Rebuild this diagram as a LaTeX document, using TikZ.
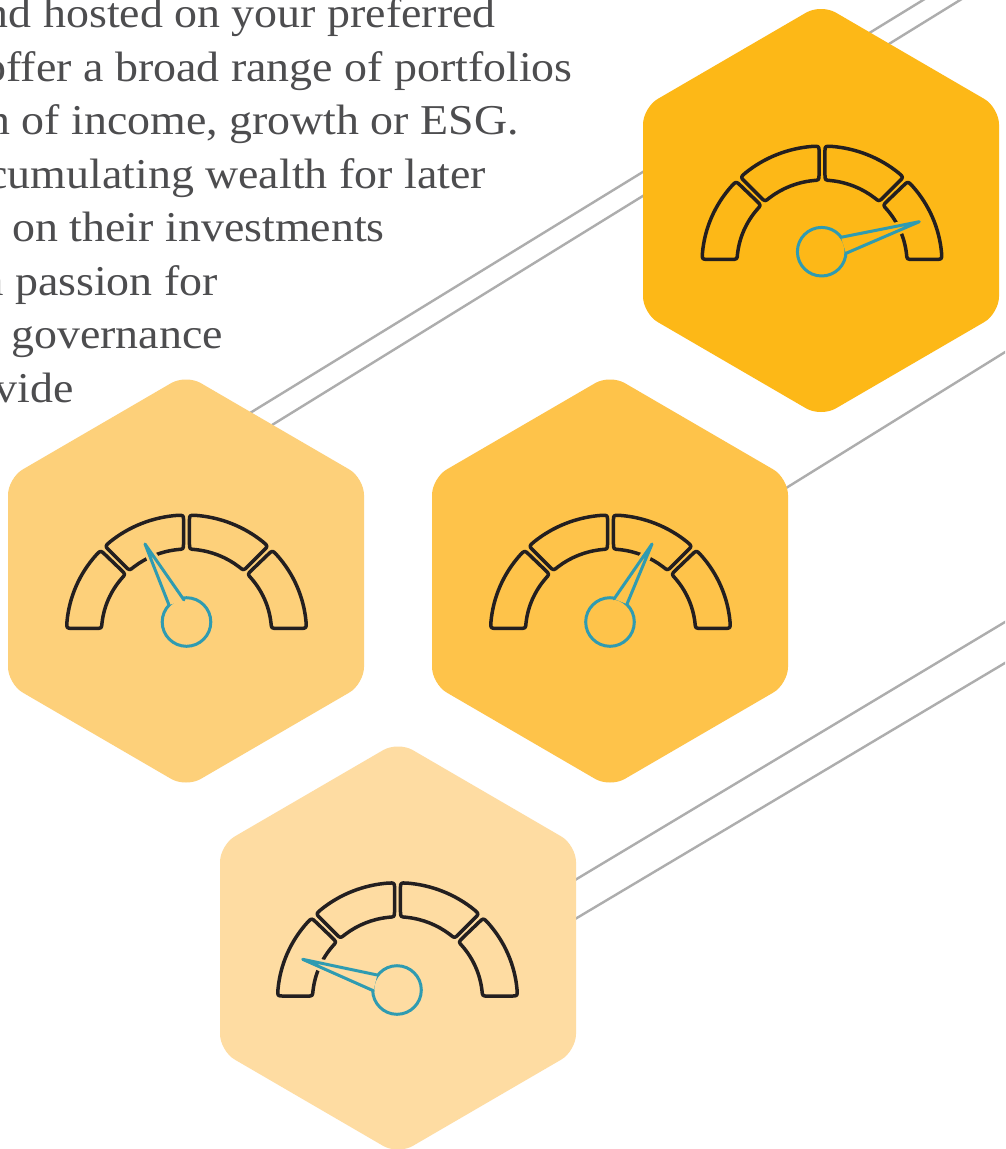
\documentclass[tikz,border=0pt]{standalone}
\usepackage{fontspec}
\setmainfont[FakeStretch=1.08]{Liberation Serif}
\usetikzlibrary{calc}
\definecolor{hexA}{HTML}{FDB817}
\definecolor{hexB}{HTML}{FEC34A}
\definecolor{hexC}{HTML}{FDD07A}
\definecolor{hexD}{HTML}{FEDCA2}
\definecolor{rulegray}{HTML}{ADADAD}
\definecolor{inkdark}{HTML}{231F20}
\definecolor{needleblue}{HTML}{2F9BB1}
\definecolor{bodytext}{HTML}{4D4D4F}
\tikzset{
  bodyline/.style={anchor=base east,inner sep=0pt,text=bodytext,font=\fontsize{42.5}{42.5}\selectfont},
  stripe/.style={draw=rulegray,line width=2.4pt},
  hexa/.style={fill=#1,rounded corners=17pt},
  segment/.style={draw=inkdark,line width=3.5pt,line join=round},
  needleline/.style={draw=needleblue,line width=3pt,line join=round,line cap=round}
}
% hexagon: centre x, centre y, colour
\newcommand{\hexagon}[3]{%
  \fill[hexa=#3] (#1,#2+206.5) -- (#1+178,#2+103) -- (#1+178,#2-103) -- (#1,#2-206.5)
     -- (#1-178,#2-103) -- (#1-178,#2+103) -- cycle;}
% one dial segment; angles counted from the left end of the dial
% #1,#2 outer start/end, #3,#4 inner start/end
\newcommand{\seglen}{34}
\newcommand{\dialseg}[4]{%
  \draw[segment]
    ({180-#1-3}:120) arc[start angle={180-#1-3},end angle={180-#2+3},radius=120]
    .. controls ({180-#2}:120) .. ($({180-#2}:120)!6/\seglen!({180-#4}:85)$)
    -- ($({180-#4}:85)!6/\seglen!({180-#2}:120)$)
    .. controls ({180-#4}:85) .. ({180-#4+4}:85)
    arc[start angle={180-#4+4},end angle={180-#3-4},radius=85]
    .. controls ({180-#3}:85) .. ($({180-#3}:85)!6/\seglen!({180-#1}:120)$)
    -- ($({180-#1}:120)!6/\seglen!({180-#3}:85)$)
    .. controls ({180-#1}:120) .. cycle;}
\newcommand{\dial}[2]{%
  \begin{scope}[shift={(#1,#2)},yscale=0.975]
    \dialseg{1.8}{44.3}{2.5}{44.2}
    \dialseg{47.2}{88.6}{47.8}{88.0}
    \begin{scope}[xscale=-1]
      \dialseg{1.8}{44.3}{2.5}{44.2}
      \dialseg{47.2}{88.6}{47.8}{88.0}
    \end{scope}
  \end{scope}}
% bg colour, hub, tip, neck 1, neck 2
\newcommand{\needle}[5]{%
  \draw[draw=#1,line width=8pt,line join=round] (#4) -- (#3) -- (#5);
  \draw[needleline] (#2) circle[radius=24.3];
  \fill[#1] (#4) -- (#3) -- (#5) -- cycle;
  \draw[needleline] (#4) -- (#3) -- (#5);}
\begin{document}
\begin{tikzpicture}[x=1pt,y=1pt]
\useasboundingbox (0,0) rectangle (1005,-1149);
\clip (0,0) rectangle (1005,-1149);
\fill[white] (0,0) rectangle (1005,-1149);
% text
\node[bodyline] (t1) at (496,-27) {nd hosted on your preferred};
\node[bodyline] (t2) at (573,-81) {offer a broad range of portfolios};
\node[bodyline] (t3) at (519,-134) {n of income, growth or ESG.};
\node[bodyline] (t4) at (486,-188) {ccumulating wealth for later};
\node[bodyline] (t5) at (385,-241) {on their investments};
\node[bodyline] (t6) at (218,-295) {a passion for};
\node[bodyline] (t7) at (223,-348) {governance};
\node[bodyline] (t8) at (74,-402) {vide};
% stripes
\coordinate (s1a) at (928,3);   \coordinate (s1b) at (250,-413);
\coordinate (s2a) at (965,3);   \coordinate (s2b) at (272,-425);
\coordinate (s3a) at (770,-498);  \coordinate (s3b) at (1010,-349);
\coordinate (s4a) at (560,-889);  \coordinate (s4b) at (1010,-619);
\coordinate (s5a) at (560,-928);  \coordinate (s5b) at (1010,-660);
\draw[stripe] (s1a) -- (s1b);
\draw[stripe] (s2a) -- (s2b);
\draw[stripe] (s3a) -- (s3b);
\draw[stripe] (s4a) -- (s4b);
\draw[stripe] (s5a) -- (s5b);
% hexagons
\hexagon{821}{-210.5}{hexA}
\hexagon{610}{-581}{hexB}
\hexagon{186}{-581}{hexC}
\hexagon{398}{-948}{hexD}
% dials
\dial{822}{-263}
\needle{hexA}{821.7,-251.7}{919.3,-221.7}{841,-237.3}{846,-253.3}
\dial{186.5}{-632}
\needle{hexC}{186.5,-622}{145,-544}{184,-600}{169,-605}
\dial{610.5}{-632}
\needle{hexB}{610,-622}{652,-544}{614,-599}{627,-604}
\dial{397.5}{-999.7}
\needle{hexD}{397,-990}{302.7,-959.3}{377.3,-975}{373.3,-990.7}
\end{tikzpicture}
\end{document}
